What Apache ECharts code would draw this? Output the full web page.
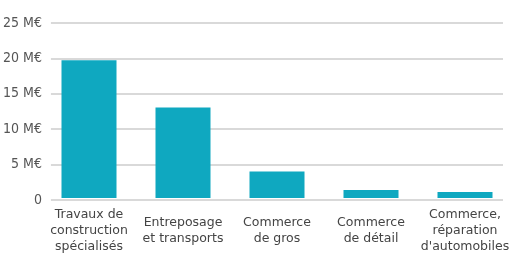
<!DOCTYPE html>
<html>
<head>
<meta charset="utf-8">
<script src="https://cdn.jsdelivr.net/npm/echarts@6/dist/echarts.min.js"></script>
<style>
    html, body { margin: 0; padding: 0; background: #fff; }
    #chart { width: 512px; height: 255px; }
</style>
</head>
<body>
<div id="chart"></div>
<script>
// ==================== Data ====================
const categories = [
    'Travaux de\nconstruction\nspécialisés',
    'Entreposage\net transports',
    'Commerce\nde gros',
    'Commerce\nde détail',
    'Commerce,\nréparation\nd\'automobiles'
];
const values = [19.8, 13.0, 3.8, 1.15, 0.85];
const yTicks = [0, 5, 10, 15, 20, 25];

const BAR_COLOR = '#0fa8c0';
const GRID_COLOR = '#d9d9d9';

// ==================== Chart ====================
const chart = echarts.init(document.getElementById('chart'), null, { renderer: 'canvas' });
chart.setOption({
    animation: false,
    grid: [
        { left: 49, right: 9, top: 23, bottom: 55 },   // gridlines + y labels
        { left: 42, width: 475, top: 24, bottom: 54 }  // bars + category labels
    ],
    xAxis: [
        { type: 'category', gridIndex: 0, data: categories, show: false },
        {
            type: 'category', gridIndex: 1, data: categories,
            axisLine: { show: false },
            axisTick: { show: false },
            axisLabel: {
                interval: 0,
                margin: 33,
                verticalAlign: 'middle',
                color: '#444',
                fontFamily: 'DejaVu Sans',
                fontSize: 12.5,
                lineHeight: 16
            }
        }
    ],
    yAxis: [
        {
            type: 'value', gridIndex: 0,
            min: yTicks[0], max: yTicks[yTicks.length - 1], interval: 5,
            axisLine: { show: false },
            axisTick: { show: false },
            splitLine: { lineStyle: { color: GRID_COLOR, width: 2 } },
            axisLabel: {
                margin: 9,
                color: '#555',
                fontFamily: 'DejaVu Sans Condensed, sans-serif',
                fontSize: 14,
                padding: [0, 0, 5, 0],
                formatter: v => v === 0 ? '0' : v + ' M€'
            }
        },
        {
            type: 'value', gridIndex: 1,
            min: yTicks[0], max: yTicks[yTicks.length - 1], interval: 5,
            show: false
        }
    ],
    series: [{
        type: 'bar',
        xAxisIndex: 1,
        yAxisIndex: 1,
        data: values,
        barWidth: 55,
        itemStyle: { color: BAR_COLOR }
    }]
});
</script>
</body>
</html>
